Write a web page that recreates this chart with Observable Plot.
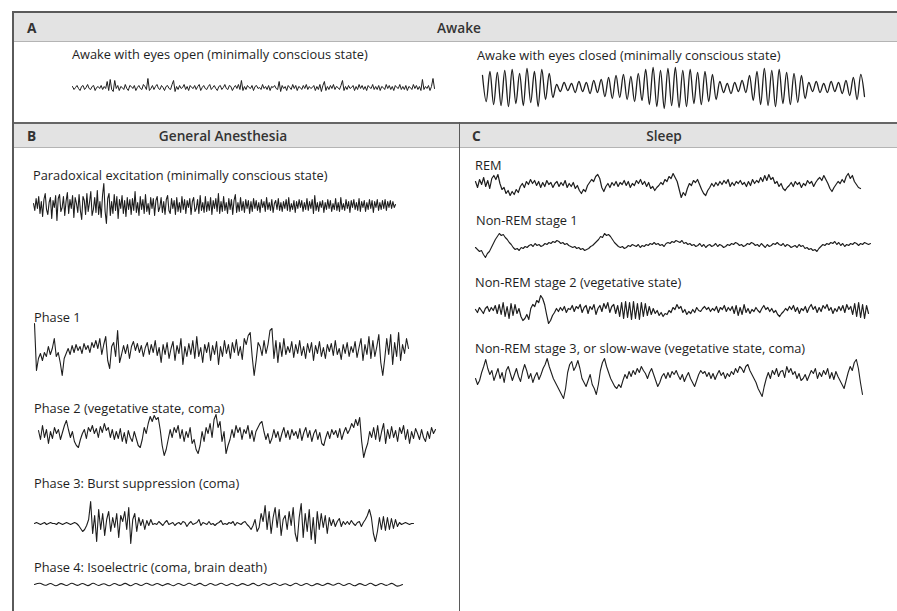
<!DOCTYPE html>
<html><head><meta charset="utf-8">
<script src="https://cdn.jsdelivr.net/npm/d3@7"></script>
<script src="https://cdn.jsdelivr.net/npm/@observablehq/plot@0.6"></script>
<style>
html,body{margin:0;padding:0;background:#fff;}
#fig{position:relative;width:897px;height:611px;overflow:hidden;font-family:"Open Sans",sans-serif;color:#222;background:#fff;}
.rule{position:absolute;}
.hdr{position:absolute;background:#e3e3e3;}
.lbl{position:absolute;font-size:12.8px;white-space:nowrap;transform:translateY(-50%);line-height:1;color:#1e1e1e;}
.htxt{position:absolute;font-size:13.7px;font-weight:600;white-space:nowrap;transform:translate(-50%,-50%);line-height:1;color:#333;}
.hlet{position:absolute;font-size:13.7px;font-weight:700;white-space:nowrap;transform:translateY(-50%);line-height:1;color:#333;}
.trace{position:absolute;}
</style></head><body><div id="fig"></div><script>
// ---- Panel headings and trace labels ----
const panelLetters = ["A", "B", "C"];
const panelTitles = ["Awake", "General Anesthesia", "Sleep"];
const traceLabels = [
  "Awake with eyes open (minimally conscious state)",
  "Awake with eyes closed (minimally conscious state)",
  "Paradoxical excitation (minimally conscious state)",
  "Phase 1",
  "Phase 2 (vegetative state, coma)",
  "Phase 3: Burst suppression (coma)",
  "Phase 4: Isoelectric (coma, brain death)",
  "REM",
  "Non-REM stage 1",
  "Non-REM stage 2 (vegetative state)",
  "Non-REM stage 3, or slow-wave (vegetative state, coma)"
];

// ---- EEG traces (amplitude, positive = up) ----
const eyesOpen = [1,-2,0,2,-1,-3,1,2,-2,0,3,-1,-2,1,2,-3,0,1,-1,2,
  -2,1,-1,6,-3,8,-2,-4,7,-1,2,-3,1,0,-2,3,-1,-3,2,1,
  -1,2,-3,0,2,-1,-2,3,1,-2,9,-3,-1,2,-2,1,3,-1,-2,2,
  0,-3,1,2,-1,-2,3,7,-4,1,-2,2,-1,0,3,-2,1,-3,2,0,
  -1,2,-2,1,3,-3,0,2,-1,-2,1,3,-2,0,2,-1,-3,1,2,-2,
  0,3,-1,-2,2,1,-3,0,2,-1,3,-2,7,-3,1,-2,2,0,-1,2,
  -3,1,2,-1,0,-2,3,-1,1,-2,2,-3,1,0,2,-1,-2,6,-4,2,
  -1,1,-3,2,0,-2,3,-1,2,-3,1,0,-2,2,-1,3,-2,1,-1,0,
  2,-3,1,-2,3,-4,2,6,-3,1,-2,2,-1,3,-2,1,0,-2,2,7,
  -3,1,-2,2,-1,0,2,-3,1,-2,3,-1,2,-2,1,-3,2,0,-1,3,
  -2,1,-2,2,-3,1,0,-2,3,-1,2,-2,1,-3,2,0,-1,3,-2,1,
  -2,2,-3,1,0,-2,3,-1,2,-2,1,-3,8,-2,1,-1,2,-3,1,9,-1];

const eyesClosed = [12,-14,16,-17,15,-18,17,-19,18,-16,14,-18,19,-15,16,-19,18,-12,14,-10,
  3,-4,5,-3,4,-5,6,-4,5,-6,7,-5,
  8,-9,10,-11,12,-10,13,-12,11,-14,14,-13,
  18,-17,20,-19,17,-21,19,-18,20,-20,17,-19,18,-16,15,-17,16,-14,13,-12,
  6,-5,4,-6,5,-4,7,-5,
  12,-13,16,-17,19,-18,17,-19,18,-16,15,-17,14,-15,12,-11,
  5,-4,6,-5,4,-5,6,-4,5,-6,7,-8,10,-12,13,-9];

const paradoxical = [2,-5,7,-3,9,-8,4,-11,6,12,-4,-9,3,8,-13,5,-2,10,-15,7,11,-6,-2,9,-10,4,13,-8,6,-3,10,-12,8,2,-7,11,-5,-14,9,5,-9,12,-6,3,14,-10,-4,8,-7,15,-9,4,-12,10,22,-6,-18,7,12,-10,4,-8,11,-5,9,-13,6,-3,10,-8,5,-11,8,-4,6,
  -9,7,-5,14,-7,3,-10,9,-4,6,-8,11,-6,2,-9,8,-3,7,-10,5,9,-6,-2,8,-7,4,-9,6,10,-5,-8,7,-3,5,-9,8,-6,3,-7,9,-4,6,-8,5,-2,7,-9,4,8,-6,-3,6,-8,10,-5,3,-7,9,-6,4,-5,8,-9,5,-3,7,-6,12,-8,4,-6,9,-5,3,-8,7,-4,6,-9,5,11,-7,3,-6,8,-5,4,-7,6,-3,5,-8,
  4,-6,7,-3,5,-5,3,-7,6,-2,4,-6,8,-4,3,-5,6,-7,2,5,-4,7,-5,3,-6,4,-3,6,-5,8,-6,2,-4,5,-7,4,-3,6,-2,5,-6,3,-4,7,-5,4,-3,6,-8,10,-5,3,-6,4,-2,5,-7,3,-4,6,-3,5,-6,2,-4,7,-5,3,-6,8,-4,2,-5,6,-3,4,-7,5,-2,6,-4,3,-5,7,-6,4,-2,5,-6,3,-4,6,-3,5,-7,4,-2,6,-5,3,-4,5,-3,6,-5,4,-2,5,-3,4,-2,1];

const phase1 = [27,-20,-8,-3,-10,-2,-6,4,-4,2, 12,-6,-2,-12,-25,-8,-3,2,-4,5, -2,6,0,4,-3,7,1,5,-2,8, 3,10,2,12,-4,6,14,-10,-18,4,
  8,-6,20,-12,-4,5,-3,6,-8,4, 9,0,7,-2,5,-6,3,8,-4,6, -2,10,-5,3,-12,6,-4,8,-8,2, 9,-10,5,-3,12,-14,4,-6,7,-4,
  10,-8,14,-6,3,-12,6,-2,8,-10, 5,-4,9,-14,4,-6,10,-3,6,-8, 8,-2,11,-5,4,-9,12,6,15,18, -6,-25,-10,8,4,-5,10,-3,6,20,
  22,-8,10,-12,8,-6,12,-4,4,-2, 9,-7,6,-3,10,-5,4,-8,7,-2, 8,-10,5,-3,9,-6,3,-8,6,-1, 7,-5,10,-4,2,-9,6,-3,8,-6,
  4,-2,9,-7,3,12,-10,6,-4,14, -8,10,-6,4,16,-12,-25,-8,12,-4, 16,-14,8,-6,18,-10,6,-3,12,2];

const phase2 = [5,-4,10,-2,6,-8,4,-3,8,2, 6,-4,3,10,15,6,-2,4,-6,-10, -12,-4,2,6,-3,8,4,10,2,7, -2,9,3,12,5,8,-2,6,-4,4,
  -3,7,-6,3,-8,5,-2,-6,4,-3, -10,-12,-4,8,2,12,19,14,20,16, 18,6,-10,-20,-14,-4,6,-2,8,3, 10,-3,6,-6,4,-2,8,-8,-4,-14,
  -18,-10,4,-6,8,2,12,-2,16,21, 8,14,-6,4,-18,-10,-4,6,-2,10, 3,8,-4,6,2,10,-3,5,-6,4, 8,12,14,4,-4,2,-8,-3,6,-2,
  4,-6,2,8,-2,5,-4,6,0,4, -3,7,-5,3,8,-2,5,-6,2,6, -4,3,-8,-10,-2,4,-3,6,1,5, -2,7,-4,3,8,2,6,12,8,16,
  10,18,-6,-22,-14,-8,4,-2,8,-4, 10,-6,4,12,-8,6,-3,9,-2,5, -6,8,2,10,-4,6,-8,4,-3,7, 2,-4,6,-2,-6,4,-3,8,2,6];

const phase3 = [0,1,0,-1,0,1,-1,0,1,0,0,-1,1,0,-1,0,1,0,-1,0,1,0,
  -2,-5,-8,-6,-2,4, 22,-10,
  8,-18,14,-6,10,-12,4,12,-8,6,-4,10,-14,8,2,12,-6,16,-20,4,10,-8,6,-2,4,-6,3,-2,4,-1,
  0,-1,2,0,-2,1,3,-1,0,1,-2,0,1,-1,2,1,-3,0,2,-1,0,1,4,-2,1,0,-1,2,-1,0,-2,0,1,3,-1,0,-1,1,0,2,-2,1,0,-1,1,2,-1,
  -3,-6,-2,4,-8,-4,10,2,18,-6,12,-10,6,16,-4,14,-12,4,8,-6,12,-2,16,-10,-18,6,20,-14,10,-8,14,-16,6,-20,12,-6,10,-4,8,-10,6,-2,4,-3,2,5,-3,2,-1,
  2,-1,3,0,-2,1,2,-3,1,4,8,14,6,-10,-18,
  -8,6,-6,7,-7,6,-6,5,-5,4,-3,
  1,-1,0,1,0,-1,0,0];

const phase4 = [0,1.2,-0.8,1,-1.2,0.9,-1,1.3,-0.9,1,-1.1,1.2,-1,0.8,-1.3,1,-0.9,1.1,-1.2,1,-1,1.3,-0.8,1,-1.1,0.9,-1.2,1,-1,1.2,-0.9,1.1,-1.3,1,-0.8,1.2,-1,1,-1.2,0.9,-1,1.1,-1.3,1,-0.9,1.2,-1,0.8,-1.1,1.3,-1,1,-1.2,0.9,-1,1.1,-0.8,1.2,-1,1,-1.3,0.9,-1,1.2,-1.1,1,-0.9,1.1,-1.6,0];

const rem = [4,-2,6,1,8,-1,5,-3,7,10, 6,11,2,-4,-2,-8,-5,-10,-6,-9, -4,-7,-1,2,-2,4,1,6,2,5, 0,4,-2,3,-1,5,1,3,-2,2,
  4,-1,3,0,5,-2,2,-1,3,-3, 0,-5,-8,-4,-6,0,3,6,4,9, 11,7,-2,-6,-1,2,-2,3,0,4, -1,3,1,5,0,4,-2,2,0,5,
  2,6,1,4,-1,3,-3,-1,-5,-2, 0,3,1,6,4,9,7,12,8,4, -4,-12,-7,-10,-3,2,0,5,3,6, 1,-4,-8,-10,-5,-2,2,-1,3,0,
  4,1,5,2,6,-1,3,0,4,2, 5,1,3,-1,4,0,6,2,5,3, 8,4,10,5,11,6,8,2,4,-1, 2,-3,-5,-2,0,3,-1,4,1,3,
  -2,2,0,5,2,4,-1,3,6,8, 5,10,6,2,-3,-6,-2,1,4,2, 6,3,9,12,7,10,4,1,-2,-3];

const nrem1 = [-2,-4,-6,-5,-9,-12,-8,-6,-2,2, 6,9,12,10,11,8,6,3,1,-2, -4,-3,-5,-2,-3,-1,-2,0,1,-1, 2,0,1,-1,0,2,1,3,2,4,
  3,5,4,2,3,1,2,0,-1,-2, -1,-3,-2,-4,-3,-5,-4,-3,-1,0, 2,4,6,9,8,12,10,11,9,6, 3,1,-1,-2,-1,-3,-2,0,-1,1,
  0,-1,1,-2,0,-1,1,0,2,1, 3,1,2,0,1,-1,2,3,2,4, 3,5,4,3,5,2,3,1,2,0, 1,-1,0,2,-1,1,-2,0,1,-1,
  0,2,-1,1,0,-2,-1,1,0,2, 1,3,2,0,1,-1,0,2,1,3, 2,0,1,-1,2,0,-2,1,-1,0, 2,1,3,1,0,2,-1,1,0,-2,
  -1,0,-2,1,-1,0,-3,-2,-4,-3, -5,-4,-6,-3,-1,1,0,2,1,3, 2,4,1,3,0,2,-1,1,0,2, 1,3,2,0,2,1,3,2,1,2];

const nrem2 = [1,-2,3,0,-3,2,4,-1,3,0, 5,-3,6,-4,8,-6,4,-8,7,-5, 6,-3,2,-6,-10,-8,-4,-9,2,6, 4,10,8,15,12,6,-4,-13,-10,-5,
  -2,2,-1,3,0,4,-2,2,1,5, -1,4,2,6,-2,3,5,-3,4,1, 6,-4,2,5,-1,7,2,8,-2,4, 6,-3,5,-6,8,-8,9,-7,8,-9,
  9,-8,7,-9,8,-6,7,-5,4,-4, 2,-3,0,-5,-2,-6,-3,-4,0,-2, 3,1,6,2,4,-2,1,-4,-1,-3, 1,-2,3,0,-1,2,4,1,3,-1,
  2,0,4,-2,3,1,5,-1,3,0, 4,-3,5,-5,3,-4,6,-2,2,-3, 1,-1,3,0,-2,2,5,1,3,-1, 2,-2,0,-4,-6,-3,-1,2,0,4,
  1,5,-1,3,-3,2,0,4,-2,3, 6,1,4,-2,3,-1,5,2,6,0, 3,-3,2,-1,4,0,5,-2,6,1, 4,-4,7,-6,8,-7,6,-8,5,-3];

const nrem3 = [-2,-8,-4,4,10,17,8,2,6,-4, 2,8,-2,4,-6,6,10,3,-4,2, 8,0,-5,5,12,6,-2,3,-6,0, 4,-3,2,8,12,18,10,4,-2,-6,
  -10,-14,-18,-22,-12,4,12,15,6,10, 16,8,-2,-6,-10,-4,2,-8,-12,-18, -8,6,14,18,10,4,-2,-6,-10,-12, -8,-11,-4,2,-2,5,0,6,2,8,
  4,10,6,3,-2,4,8,2,-4,-10, -6,0,3,-2,4,-1,5,2,6,1, -3,2,-5,0,4,-2,-6,-10,-4,2, 6,3,5,0,4,-2,3,-3,2,6,
  1,4,-2,3,0,5,2,8,4,10, 8,4,10,12,6,2,-2,-6,-12,-16, -20,-10,-2,4,-2,6,2,8,0,5, 6,-1,10,4,8,2,5,-2,3,-4,
  -2,2,-4,1,6,3,8,-2,4,0, 6,2,8,-2,4,-3,5,0,-4,-8, -12,-4,4,10,6,14,17,8,-6,-18];

// ---- Layout (pixels) ----
const fig = document.getElementById("fig");
function box(cls, l, t, w, h, bg) {
  const d = document.createElement("div");
  d.className = cls;
  Object.assign(d.style, {left: l + "px", top: t + "px", width: w + "px", height: h + "px"});
  if (bg) d.style.background = bg;
  fig.appendChild(d);
  return d;
}
function text(cls, l, t, s) {
  const d = document.createElement("div");
  d.className = cls;
  d.style.left = l + "px"; d.style.top = t + "px";
  d.textContent = s;
  fig.appendChild(d);
}
// header fills
box("hdr", 14, 12.5, 883, 28.5);
box("hdr", 14, 123.5, 883, 23.5);
// rules
box("rule", 13, 11, 884, 1.6, "#5a5a5a");
box("rule", 14, 41, 883, 1.4, "#b4b4b4");
box("rule", 13, 121.6, 884, 2, "#666");
box("rule", 14, 147, 883, 1.4, "#b4b4b4");
box("rule", 12.3, 11, 1.6, 600, "#5a5a5a");
box("rule", 458.6, 122, 1.6, 489, "#5a5a5a");

// header texts
text("hlet", 27, 28, panelLetters[0]);
text("htxt", 459, 28, panelTitles[0]);
text("hlet", 27, 136, panelLetters[1]);
text("htxt", 223, 136, panelTitles[1]);
text("hlet", 472, 136, panelLetters[2]);
text("htxt", 664, 136, panelTitles[2]);

const series = [eyesOpen, eyesClosed, paradoxical, phase1, phase2, phase3, phase4, rem, nrem1, nrem2, nrem3];
const layout = [
  {lx: 72, ly: 54, x0: 72, x1: 434, cy: 87, sw: 1},
  {lx: 477, ly: 55, x0: 482, x1: 864, cy: 87, curve: "catmull-rom", sw: 1.3},
  {lx: 33, ly: 175, x0: 33, x1: 395, cy: 205, sw: 1.1},
  {lx: 34, ly: 317, x0: 34, x1: 408, cy: 350, sw: 1.1},
  {lx: 34, ly: 408, x0: 38, x1: 435, cy: 435, sw: 1.1},
  {lx: 34, ly: 483, x0: 34, x1: 413, cy: 523, sw: 1.1},
  {lx: 34, ly: 567, x0: 34, x1: 402, cy: 584, curve: "catmull-rom", sw: 1.1},
  {lx: 475, ly: 165, x0: 475, x1: 860, cy: 185, sw: 1.2},
  {lx: 476, ly: 220, x0: 475, x1: 870, cy: 245, sw: 1.1},
  {lx: 475, ly: 282, x0: 475, x1: 868, cy: 310, sw: 1.2},
  {lx: 475, ly: 348, x0: 475, x1: 862, cy: 376, sw: 1.1}
];

const H = 60;
series.forEach((vals, k) => {
  const L = layout[k];
  text("lbl", L.lx, L.ly, traceLabels[k]);
  const w = L.x1 - L.x0;
  const chart = Plot.plot({
    width: w, height: H, margin: 0,
    style: {background: "transparent", overflow: "visible"},
    x: {axis: null, domain: [0, vals.length - 1]},
    y: {axis: null, domain: [-H / 2, H / 2]},
    marks: [
      Plot.line(vals, {x: (d, i) => i, y: d => d, stroke: "#1e1e1e", strokeWidth: L.sw, curve: L.curve || "linear"})
    ]
  });
  const wrap = box("trace", L.x0, L.cy - H / 2, w, H);
  wrap.appendChild(chart);
});
</script></body></html>
